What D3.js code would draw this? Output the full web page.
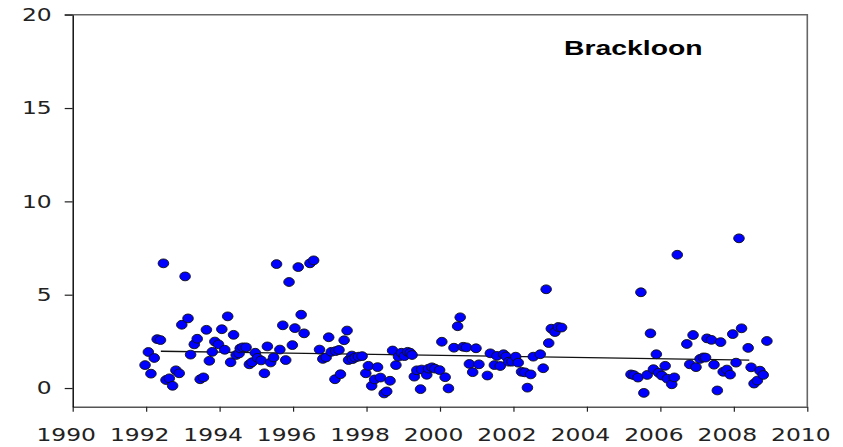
<!DOCTYPE html>
<html>
<head>
<meta charset="utf-8">
<script src="https://cdn.jsdelivr.net/npm/d3@7"></script>
<style>
  body { margin: 0; background: #fff; }
  svg { display: block; }
</style>
</head>
<body>
<svg id="chart"></svg>
<script>
// Sampling dates (decimal years) and values
const years = [
  1991.97, 1992.06, 1992.13, 1992.22, 1992.30, 1992.39, 1992.47, 1992.54, 1992.63, 1992.72,
  1992.81, 1992.90, 1992.97, 1993.06, 1993.14, 1993.21, 1993.31, 1993.39, 1993.47, 1993.56,
  1993.64, 1993.72, 1993.80, 1993.87, 1993.97, 1994.06, 1994.14, 1994.22, 1994.30, 1994.38,
  1994.45, 1994.53, 1994.56, 1994.63, 1994.72, 1994.81, 1994.88, 1994.97, 1995.03, 1995.13,
  1995.22, 1995.30, 1995.39, 1995.47, 1995.55, 1995.64, 1995.72, 1995.80, 1995.89, 1995.98,
  1996.05, 1996.14, 1996.22, 1996.30, 1996.46, 1996.56, 1996.72, 1996.81, 1996.90, 1996.97,
  1997.04, 1997.14, 1997.16, 1997.25, 1997.29, 1997.39, 1997.47, 1997.51, 1997.60, 1997.62,
  1997.69, 1997.78, 1997.88, 1997.98, 1998.05, 1998.14, 1998.22, 1998.30, 1998.38, 1998.48,
  1998.55, 1998.64, 1998.71, 1998.80, 1998.87, 1998.95, 1999.03, 1999.12, 1999.19, 1999.24,
  1999.30, 1999.37, 1999.47, 1999.50, 1999.64, 1999.69, 1999.78, 1999.86, 1999.99, 2000.05,
  2000.14, 2000.23, 2000.38, 2000.48, 2000.55, 2000.63, 2000.72, 2000.80, 2000.89, 2000.98,
  2001.06, 2001.29, 2001.37, 2001.48, 2001.55, 2001.64, 2001.73, 2001.80, 2001.87, 2001.96,
  2002.06, 2002.13, 2002.22, 2002.31, 2002.38, 2002.47, 2002.54, 2002.73, 2002.81, 2002.89,
  2002.96, 2003.03, 2003.13, 2003.22, 2003.31,
  2005.20, 2005.28, 2005.39, 2005.47, 2005.55, 2005.64, 2005.73, 2005.81, 2005.89, 2005.95,
  2006.04, 2006.13, 2006.19, 2006.31, 2006.38, 2006.46, 2006.72, 2006.80, 2006.89, 2006.97,
  2007.08, 2007.17, 2007.23, 2007.27, 2007.39, 2007.46, 2007.55, 2007.64, 2007.71, 2007.81,
  2007.90, 2007.97, 2008.06, 2008.14, 2008.21, 2008.39, 2008.47, 2008.55, 2008.64, 2008.71,
  2008.80, 2008.90
];
const values = [
  1.23, 1.93, 0.77, 1.61, 2.62, 2.57, 6.68, 0.43, 0.52, 0.12,
  0.95, 0.79, 3.39, 5.98, 3.73, 1.79, 2.34, 2.64, 0.47, 0.57,
  3.12, 1.46, 1.94, 2.49, 2.34, 3.15, 2.05, 3.84, 1.38, 2.85,
  1.77, 1.85, 2.12, 2.18, 2.18, 1.27, 1.38, 1.89, 1.62, 1.48,
  0.79, 2.23, 1.37, 1.64, 6.64, 2.06, 3.36, 1.50, 5.68, 2.30,
  3.21, 6.48, 3.93, 2.93, 6.68, 6.84, 2.06, 1.56, 1.64, 2.72,
  1.94, 0.47, 1.98, 2.04, 0.74, 2.56, 3.08, 1.50, 1.74, 1.55,
  1.63, 1.68, 1.71, 0.79, 1.19, 0.12, 0.46, 1.12, 0.56, -0.29,
  -0.18, 0.39, 2.01, 1.23, 1.68, 1.89, 1.71, 1.94, 1.89, 1.77,
  0.61, 0.95, -0.06, 0.99, 0.71, 1.04, 1.11, 1.04, 0.96, 2.48,
  0.58, -0.02, 2.16, 3.31, 3.79, 2.21, 2.18, 1.29, 0.85, 2.13,
  1.27, 0.67, 1.86, 1.23, 1.72, 1.18, 1.81, 1.69, 1.41, 1.41,
  1.68, 1.36, 0.87, 0.84, 0.02, 0.73, 1.68, 1.81, 1.06, 5.29,
  2.41, 3.18, 3.00, 3.27, 3.24,
  0.73, 0.69, 0.56, 5.13, -0.26, 0.70, 2.93, 1.01, 1.81, 0.82,
  0.67, 1.19, 0.50, 0.20, 0.57, 7.14, 2.36, 1.27, 2.84, 1.12,
  1.56, 1.64, 1.63, 2.66, 2.58, 1.25, -0.13, 2.46, 0.87, 0.99,
  0.72, 2.89, 1.36, 8.02, 3.20, 2.15, 1.11, 0.24, 0.40, 0.93,
  0.70, 2.52
];

// Fitted trend line end points
const trendYears = [1992.40, 2008.42];
const trendValues = [1.97, 1.50];

const xTicks = [1990, 1992, 1994, 1996, 1998, 2000, 2002, 2004, 2006, 2008, 2010];
const yTicks = [0, 5, 10, 15, 20];
const siteName = "Brackloon";

const width = 843, height = 447;
const margin = { top: 14.7, right: 35.7, bottom: 40.3, left: 72.7 };
const stretch = 1.3; // text in the reference is drawn horizontally stretched

const svg = d3.select("#chart")
  .attr("width", width)
  .attr("height", height)
  .style("background", "#fff");

const x = d3.scaleLinear()
  .domain([1990, 2010])
  .range([margin.left, width - margin.right]);

const y = d3.scaleLinear()
  .domain([-1, 20])
  .range([height - margin.bottom, margin.top]);

// Top and right frame
svg.append("path")
  .attr("d", `M${x(1990) - 8},${y(20)}H${x(2010)}V${y(-1)}`)
  .attr("fill", "none")
  .attr("stroke", "#666")
  .attr("stroke-width", 1.6);

// X axis
const xAxis = svg.append("g")
  .attr("transform", `translate(0, ${y(-1)})`)
  .call(d3.axisBottom(x).tickValues(xTicks).tickFormat(d3.format("d"))
    .tickSize(5).tickSizeOuter(0).tickPadding(17));

xAxis.select(".domain").attr("stroke", "#555").attr("stroke-width", 1.6);
xAxis.selectAll(".tick line").attr("stroke", "#222").attr("stroke-width", 1.2);
xAxis.selectAll("text")
  .attr("font-family", "'DejaVu Sans', Verdana, sans-serif")
  .attr("font-size", 18)
  .attr("fill", "#222")
  .attr("x", -7 / stretch)
  .attr("transform", `scale(${stretch},1)`);

// Y axis
const yAxis = svg.append("g")
  .attr("transform", `translate(${x(1990)}, 0)`)
  .call(d3.axisLeft(y).tickValues(yTicks)
    .tickSize(8).tickSizeOuter(0));

yAxis.select(".domain").attr("stroke", "#000").attr("stroke-width", 1.4);
yAxis.selectAll(".tick line").attr("stroke", "#222").attr("stroke-width", 1.2);
yAxis.selectAll("text")
  .attr("font-family", "'DejaVu Sans', Verdana, sans-serif")
  .attr("font-size", 18)
  .attr("fill", "#222")
  .attr("x", -21 / stretch)
  .attr("transform", `scale(${stretch},1)`);

// Trend line
svg.append("line")
  .attr("x1", x(trendYears[0]))
  .attr("y1", y(trendValues[0]))
  .attr("x2", x(trendYears[1]))
  .attr("y2", y(trendValues[1]))
  .attr("stroke", "#111")
  .attr("stroke-width", 1.3);

// Points
svg.append("g")
  .selectAll("ellipse")
  .data(d3.zip(years, values))
  .join("ellipse")
  .attr("cx", d => x(d[0]))
  .attr("cy", d => y(d[1]))
  .attr("rx", 5.3)
  .attr("ry", 4.4)
  .attr("fill", "#0000ff")
  .attr("stroke", "#111")
  .attr("stroke-width", 0.9);

// Site name
svg.append("text")
  .attr("transform", `translate(564, 55) scale(1.35,1)`)
  .attr("font-family", "'Liberation Sans', Arial, sans-serif")
  .attr("font-weight", "bold")
  .attr("font-size", 21)
  .attr("fill", "#000")
  .text(siteName);
</script>
</body>
</html>
